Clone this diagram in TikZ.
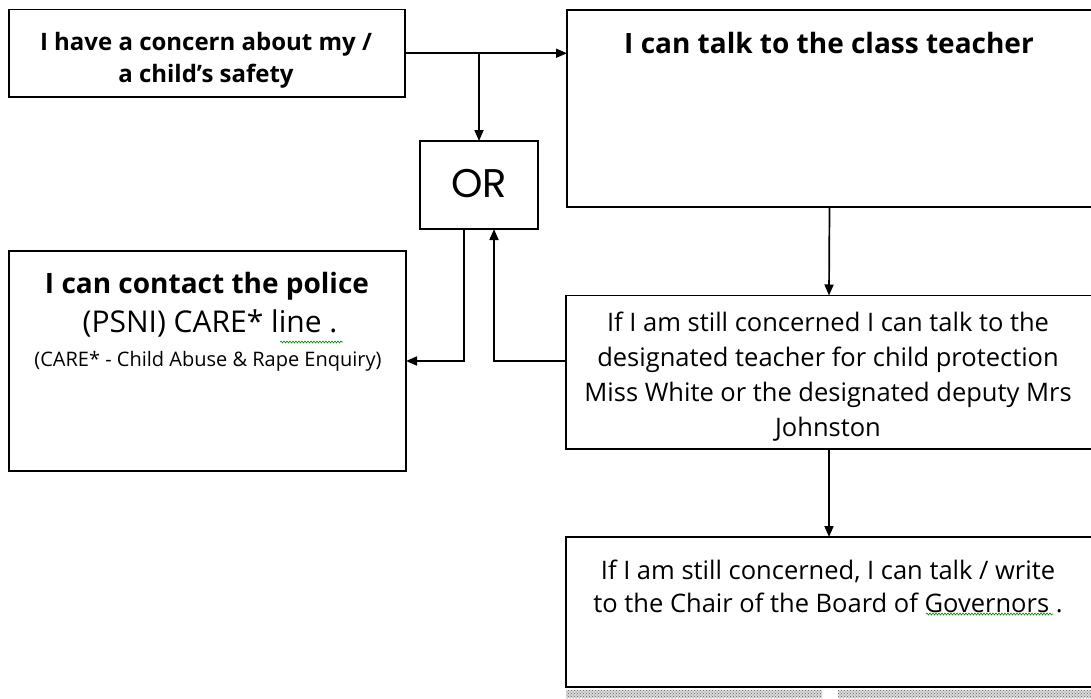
\documentclass[tikz,border=0pt]{standalone}
\usepackage{fontspec}
\setmainfont{Open Sans}
\newfontfamily\orfont{Poppins}
\usetikzlibrary{arrows.meta,patterns,decorations.pathmorphing}
\begin{document}
\begin{tikzpicture}[x=1pt,y=-1pt,
  box/.style={draw=black,line width=1.7pt,inner sep=0pt,outer sep=0pt,fill=none},
  arr/.style={line width=1.7pt,-{Triangle[length=11pt,width=9pt]}},
  txt/.style={align=center,inner sep=0pt},
  squig/.style={draw=green!55!black,line width=0.6pt,decorate,decoration={snake,amplitude=1pt,segment length=3pt}},
  strip/.style={fill=gray!30,postaction={pattern=crosshatch dots,pattern color=black!60}}]
\useasboundingbox (0,0) rectangle (1091,698);
\clip (0,0) rectangle (1091,698);
\fill[white] (0,0) rectangle (1091,698);
% boxes
\node[box,minimum width=396pt,minimum height=87.5pt] (concern) at (207,53.25) {};
\node[box,minimum width=118pt,minimum height=88pt] (or) at (479,185) {};
\node[box,minimum width=533pt,minimum height=197pt] (teacher) at (833.5,108.5) {};
\node[box,minimum width=397pt,minimum height=220pt] (police) at (207.5,361) {};
\node[box,minimum width=534pt,minimum height=153.5pt] (desig) at (833,372.25) {};
\node[box,minimum width=534pt,minimum height=150pt] (gov) at (833,612) {};
% texts
\node[txt,font=\fontsize{24}{32}\selectfont\bfseries] (concernT) at (206,60) {I have a concern about my /\\a child's safety};
\node[txt,font=\fontsize{40}{40}\selectfont\orfont] (orT) at (479,184) {OR};
\node[txt,font=\fontsize{28}{30}\selectfont\bfseries] (teacherT) at (829,43) {I can talk to the class teacher};
\node[txt,font=\fontsize{28}{30}\selectfont\bfseries] (policeA) at (207,286) {I can contact the police};
\node[txt,font=\fontsize{30}{32}\selectfont] (policeB) at (210,323) {(PSNI) CARE* line .};
\node[txt,font=\fontsize{20}{22}\selectfont] (policeC) at (208,361) {(CARE* - Child Abuse \& Rape Enquiry)};
\node[txt,font=\fontsize{25.5}{35}\selectfont] (desigT) at (828,377) {If I am still concerned I can talk to the\\designated teacher for child protection\\Miss White or the designated deputy Mrs\\Johnston};
\node[txt,font=\fontsize{25.5}{33}\selectfont] (govT) at (828,586) {If I am still concerned, I can talk / write\\to the Chair of the Board of Governors .};
% spell-check squiggles
\draw[squig] (280,342) -- (343,342);
\draw[squig] (926,614) -- (1053,614);
% connectors
\draw[arr] (concern.east) -- (concern.east -| teacher.west);
\draw[arr] (concern.east -| or.north) -- (or.north);
\draw[arr] ([xshift=-15pt]or.south) |- (police.east);
\draw[arr] (desig.west |- police.east) -| ([xshift=15pt]or.south);
\draw[arr] ([xshift=-4pt]teacher.south) -- ([xshift=-4pt]desig.north);
\draw[arr] ([xshift=-4pt]desig.south) -- ([xshift=-4pt]gov.north);
% scan shadow strip
\path[strip] (566,690) rectangle (822,698);
\path[strip] (838,690) rectangle (1091,698);
\end{tikzpicture}
\end{document}
